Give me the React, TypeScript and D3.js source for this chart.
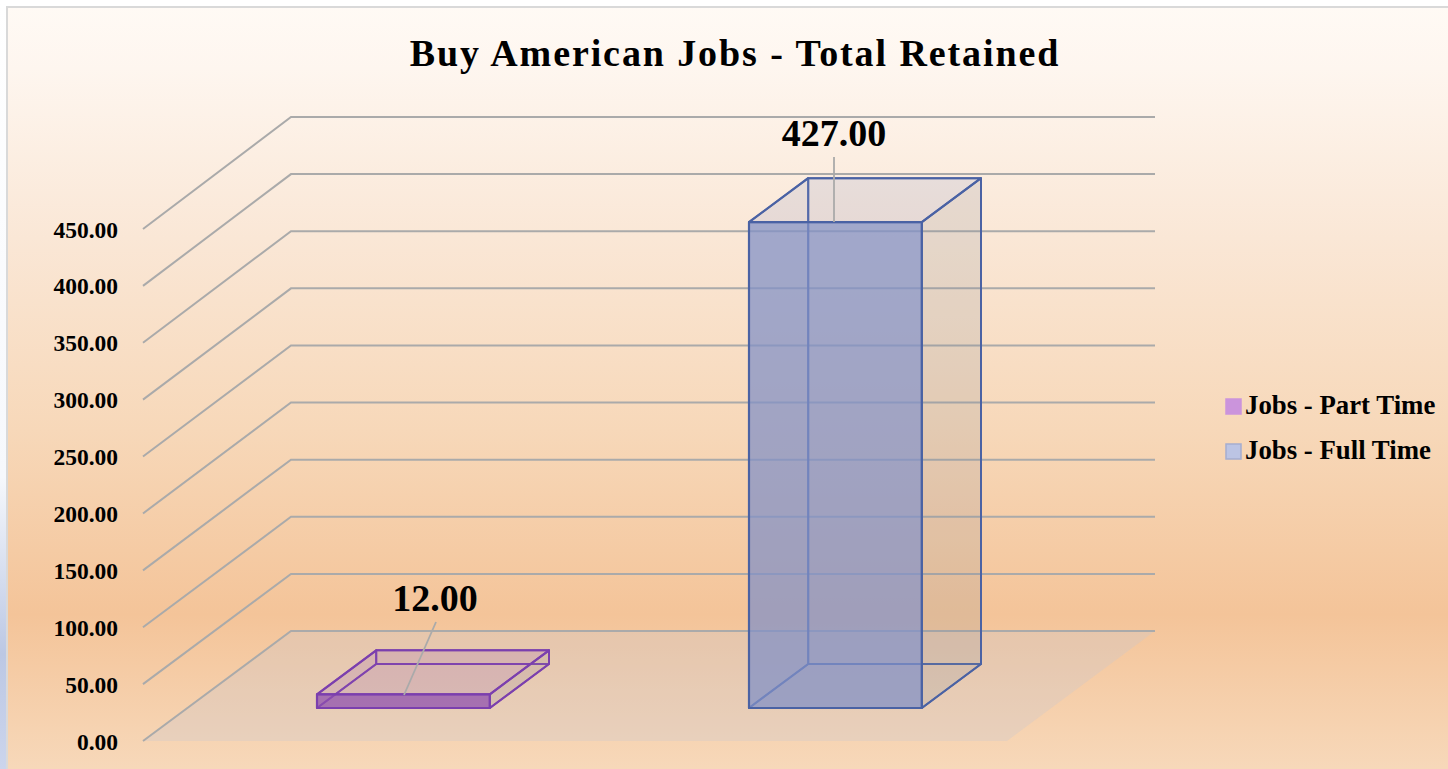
import * as React from 'react'
import {scaleBand, scaleLinear, line, range} from 'd3'

const {useMemo} = React

const W = 1448
const H = 769

// data
const categories = ['Jobs - Part Time', 'Jobs - Full Time']
const values = [12, 427]
const valueLabels = ['12.00', '427.00']
const yTicks = [0, 50, 100, 150, 200, 250, 300, 350, 400, 450]
const fills = ['#8e4fae', '#8190c6']
const strokes = ['#7b3fae', '#4a62a4']
const legendFills = ['#cb94dc', '#bcc4e4']
const legendStrokes = ['#cb94dc', '#a5adcf']

const serif = '"Liberation Serif", serif'

// oblique projection: depth 0 is the front of the box, depth 1 the back wall
const yFront = scaleLinear().domain([0, 450]).range([741, 229])
const yBack = scaleLinear().domain([0, 450]).range([631, 117])
const depthX = scaleLinear().domain([0, 1]).range([0, 148])
const depthY = scaleLinear().domain([0, 1]).range([0, -110])

const band = scaleBand<string>()
  .domain(categories)
  .range([143, 1007])
  .paddingInner(0.6)
  .paddingOuter(0.3)

const px = (x: number, d: number) => x + depthX(d)
const py = (v: number, d: number) => yFront(v) + depthY(d)

const path = line<number[]>()

const Bar = ({i}: {i: number}) => {
  const x0 = band(categories[i]) as number
  const x1 = x0 + band.bandwidth()
  const v = values[i]
  const dA = 0.3
  const dB = 0.7
  const P = (x: number, val: number, d: number) => [px(x, d), py(val, d)]

  const front = [P(x0, 0, dA), P(x1, 0, dA), P(x1, v, dA), P(x0, v, dA)]
  const back = [P(x0, 0, dB), P(x1, 0, dB), P(x1, v, dB), P(x0, v, dB)]
  const left = [P(x0, 0, dA), P(x0, 0, dB), P(x0, v, dB), P(x0, v, dA)]
  const right = [P(x1, 0, dA), P(x1, 0, dB), P(x1, v, dB), P(x1, v, dA)]
  const top = [P(x0, v, dA), P(x0, v, dB), P(x1, v, dB), P(x1, v, dA)]
  const bottom = [P(x0, 0, dA), P(x0, 0, dB), P(x1, 0, dB), P(x1, 0, dA)]

  const faint = [back, left, bottom]
  return (
    <g stroke={strokes[i]} strokeWidth={2} strokeLinejoin="round">
      {faint.map((f, k) => (
        <path key={k} d={path(f) + 'Z'} fill={fills[i]} fillOpacity={0.04} strokeOpacity={0.85} />
      ))}
      <path d={path(right) + 'Z'} fill="#8a8f90" fillOpacity={0.15} />
      <path d={path(top) + 'Z'} fill={fills[i]} fillOpacity={0.13} />
      <path d={path(front) + 'Z'} fill={fills[i]} fillOpacity={0.72} strokeWidth={2.2} />
    </g>
  )
}

export default function App() {
  const ticks = useMemo(() => yTicks.map(t => ({t, y: yFront(t)})), [])

  const floor = [[px(143, 0), py(0, 0)], [px(1007, 0), py(0, 0)], [px(1007, 1), py(0, 1)], [px(143, 1), py(0, 1)]]

  return (
    <svg width={W} height={H} style={{position: 'fixed', left: 0, top: 0, display: 'block'}}>
      <defs>
        <linearGradient id="bg" x1="0" y1="0" x2="0" y2="1">
          <stop offset="0" stopColor="#fffaf5" />
          <stop offset="0.08" stopColor="#fef6ef" />
          <stop offset="0.3" stopColor="#fae7d6" />
          <stop offset="0.55" stopColor="#f7d8b9" />
          <stop offset="0.79" stopColor="#f4c499" />
          <stop offset="1" stopColor="#f7d9bb" />
        </linearGradient>
        <linearGradient id="strip" x1="0" y1="0" x2="0" y2="1">
          <stop offset="0" stopColor="#ffffff" />
          <stop offset="0.62" stopColor="#f6f8fc" />
          <stop offset="0.85" stopColor="#bcc8e4" />
          <stop offset="1" stopColor="#ccd5ec" />
        </linearGradient>
      </defs>
      <rect x={0} y={0} width={W} height={H} fill="#ffffff" />
      <rect x={0} y={0} width={7} height={H} fill="url(#strip)" />
      <rect x={7} y={7} width={W} height={H} fill="url(#bg)" stroke="#d9d9d9" strokeWidth={2} />

      <text x={735} y={66} textAnchor="middle" fontFamily={serif} fontWeight="bold" fontSize={38} letterSpacing={1.9} fill="#000">
        Buy American Jobs - Total Retained
      </text>

      {/* floor */}
      <path d={path(floor) + 'Z'} fill="#c8c8d0" fillOpacity={0.3} />

      {/* gridlines: side wall then back wall */}
      {ticks.map(({t, y}) => (
        <path
          key={t}
          d={path([[px(143, 0), y], [px(143, 1), yBack(t)], [px(1007, 1), yBack(t)]]) as string}
          fill="none"
          stroke="#aaaaaa"
          strokeWidth={2}
        />
      ))}

      {/* axis labels */}
      {ticks.map(({t, y}) => (
        <text key={t} x={118} y={y + 8.5} textAnchor="end" fontFamily={serif} fontWeight="bold" fontSize={23.5} fill="#000">
          {t.toFixed(2)}
        </text>
      ))}

      {range(categories.length).map(i => <Bar key={i} i={i} />)}

      {/* leader lines */}
      <path d="M404,695L436,622" stroke="#aaaaaa" strokeWidth={1.8} fill="none" />
      <path d="M834,222L834,157" stroke="#aaaaaa" strokeWidth={1.8} fill="none" />
      <text x={435} y={611} textAnchor="middle" fontFamily={serif} fontWeight="bold" fontSize={38} fill="#000">{valueLabels[0]}</text>
      <text x={834} y={146} textAnchor="middle" fontFamily={serif} fontWeight="bold" fontSize={38} fill="#000">{valueLabels[1]}</text>

      {/* legend */}
      {categories.map((c, i) => (
        <g key={c}>
          <rect x={1226} y={399 + i * 45} width={15} height={15} fill={legendFills[i]} stroke={legendStrokes[i]} strokeWidth={1.5} />
          <text x={1245} y={414 + i * 45} fontFamily={serif} fontWeight="bold" fontSize={26.8} fill="#000">{c}</text>
        </g>
      ))}
    </svg>
  )
}
